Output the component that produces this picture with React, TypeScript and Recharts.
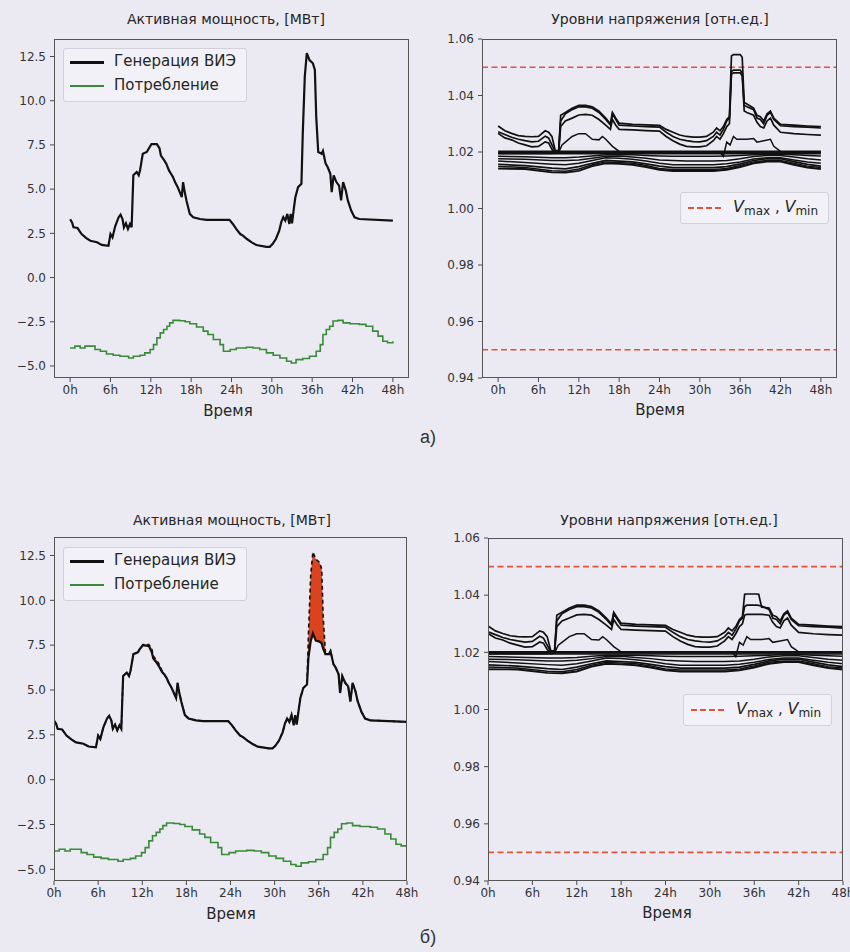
import React from 'react';
import { ComposedChart, Line, Area, XAxis, YAxis, ReferenceLine } from 'recharts';

const FONT = '"DejaVu Sans", sans-serif';
const BG = '#EBEAF3';

const hourTicks = [0, 6, 12, 18, 24, 30, 36, 42, 48];
const powerTicks = [-5, -2.5, 0, 2.5, 5, 7.5, 10, 12.5];
const voltTicks = [0.94, 0.96, 0.98, 1.0, 1.02, 1.04, 1.06];
const voltLimits = [1.05, 0.95];

const titlePower = 'Активная мощность, [МВт]';
const titleVolt = 'Уровни напряжения [отн.ед.]';
const xLabel = 'Время';
const genName = 'Генерация ВИЭ';
const consName = 'Потребление';

// Generation of RES (MW)
const genHours = [
  0, 0.3, 0.5, 1.1, 1.7, 2.4, 3, 4, 4.7, 5.7,
  6.0, 6.3, 6.7, 7.2, 7.5, 7.8, 8, 8.3, 8.6, 8.9,
  9.15, 9.4, 9.9, 10.2, 10.4, 10.8, 11.4, 11.7, 12.1, 12.9,
  13.3, 13.5, 14, 14.3, 14.7, 15, 15.3, 15.6, 16, 16.3,
  16.6, 16.8, 17, 17.3, 17.8, 18.3, 19.3, 20.3, 23.7, 24.2,
  24.7, 25.3, 25.7, 26.3, 27, 27.7, 29.2, 29.7, 30.1, 30.6,
  31.1, 31.4, 31.7, 32, 32.3, 32.6, 32.8, 33, 33.3, 33.5,
  33.9, 34.4, 34.6, 34.9, 35.2, 35.6, 36.1, 36.4, 36.6, 36.9,
  37.4, 37.6, 38, 38.3, 38.7, 38.9, 39.2, 39.6, 40, 40.3,
  40.6, 41, 41.3, 41.8, 42.3, 43, 48,
];
const genValues = [
  3.3, 3.1, 2.84, 2.8, 2.46, 2.23, 2.08, 2.0, 1.85, 1.8,
  2.46, 2.27, 2.9, 3.4, 3.56, 3.3, 2.84, 3.07, 2.75, 3.03,
  2.84, 5.78, 5.97, 5.78, 6.06, 7.0, 7.1, 7.3, 7.54, 7.54,
  7.3, 6.9, 6.63, 6.44, 6.06, 5.87, 5.68, 5.4, 5.11, 4.83,
  4.55, 5.4, 4.92, 4.36, 3.6, 3.41, 3.31, 3.26, 3.26, 3.03,
  2.75, 2.46, 2.37, 2.18, 1.99, 1.84, 1.74, 1.74, 1.89, 2.18,
  2.65, 3.13, 3.41, 3.22, 3.6, 3.03, 3.6, 3.07, 3.98, 4.55,
  5.11, 5.3, 8.14, 11.36, 12.69, 12.3, 12.12, 11.74, 9.1, 7.1,
  7.0, 7.16, 6.44, 6.25, 5.87, 4.83, 5.78, 5.4, 5.2, 4.36,
  5.4, 4.92, 4.36, 3.79, 3.41, 3.31, 3.22,
];
const genCurtailedValues = [
  3.3, 3.1, 2.84, 2.8, 2.46, 2.23, 2.08, 2.0, 1.85, 1.8,
  2.46, 2.27, 2.9, 3.4, 3.56, 3.3, 2.84, 3.07, 2.75, 3.03,
  2.84, 5.78, 5.97, 5.78, 6.06, 7.0, 7.1, 7.3, 7.5, 7.45,
  7.1, 6.75, 6.5, 6.3, 6.0, 5.87, 5.68, 5.4, 5.11, 4.83,
  4.55, 5.4, 4.92, 4.36, 3.6, 3.41, 3.31, 3.26, 3.26, 3.03,
  2.75, 2.46, 2.37, 2.18, 1.99, 1.84, 1.74, 1.74, 1.89, 2.18,
  2.65, 3.13, 3.41, 3.22, 3.6, 3.03, 3.6, 3.07, 3.98, 4.55,
  5.11, 5.3, 6.8, 7.7, 8.15, 7.75, 7.7, 7.6, 7.3, 7.0,
  7.0, 7.16, 6.44, 6.25, 5.87, 4.83, 5.78, 5.4, 5.2, 4.36,
  5.4, 4.92, 4.36, 3.79, 3.41, 3.31, 3.22,
];

// Consumption (MW, negative)
const consHours = [
  0, 0.7, 1.5, 2.2, 3.7, 4.5, 5.4, 6.4, 7.4, 8.7,
  9.4, 10.4, 11.1, 11.9, 12.4, 12.9, 13.4, 13.9, 14.4, 14.8,
  15.3, 16.3, 17.1, 17.8, 18.8, 19.8, 20.5, 21.3, 22.3, 22.8,
  23.8, 24.7, 26.2, 27.2, 28.2, 29.2, 30.2, 31.2, 32.2, 32.9,
  33.6, 34.6, 35.6, 36.6, 37.2, 37.6, 38.1, 38.6, 39.1, 39.8,
  40.6, 41.6, 43, 44, 45, 45.8, 46.5, 47.2, 48,
];
const consValues = [
  -3.98, -3.88, -3.98, -3.88, -4.07, -4.17, -4.32, -4.39, -4.45, -4.55,
  -4.45, -4.39, -4.26, -4.07, -3.79, -3.41, -3.13, -2.94, -2.75, -2.56,
  -2.42, -2.44, -2.5, -2.61, -2.8, -3.03, -3.22, -3.5, -3.79, -4.17,
  -4.07, -3.98, -3.94, -3.98, -4.07, -4.26, -4.39, -4.55, -4.73, -4.83,
  -4.64, -4.58, -4.45, -4.17, -3.79, -3.22, -2.94, -2.75, -2.46, -2.42,
  -2.56, -2.61, -2.65, -2.75, -3.03, -3.31, -3.6, -3.69, -3.6,
];

// Voltage levels (p.u.) - upper nodes
const vUpHours = [
  0, 1, 2, 3, 4, 5, 6, 7, 7.5, 8,
  8.5, 9, 9.3, 10, 11, 12, 13, 14, 15, 16,
  16.7, 17, 17.5, 18, 20, 22, 24, 25, 26, 27,
  28, 29, 30, 31, 32, 32.5, 33, 33.5, 34, 34.4,
  34.7, 35, 36, 36.3, 36.6, 37, 38, 38.5, 39, 39.5,
  40, 40.5, 41, 42, 44, 46, 48,
];
const vUp1A = [
  1.0292, 1.0275, 1.0266, 1.0258, 1.0255, 1.0254, 1.0255, 1.0275, 1.027, 1.0255,
  1.0205, 1.0205, 1.033, 1.034, 1.0355, 1.0365, 1.0365, 1.036, 1.0345, 1.032,
  1.03, 1.034, 1.032, 1.0302, 1.0298, 1.0296, 1.0294, 1.028, 1.027, 1.026,
  1.0255, 1.0253, 1.0253, 1.0255, 1.027, 1.0285, 1.0275, 1.029, 1.0315, 1.0325,
  1.054, 1.0545, 1.0545, 1.0535, 1.0375, 1.037, 1.0355, 1.033, 1.0325, 1.031,
  1.0335, 1.0345, 1.032, 1.0298, 1.0295, 1.0292, 1.029,
];
const vUp2A = [
  1.0272, 1.0262, 1.0252, 1.0245, 1.024, 1.0236, 1.0238, 1.0256, 1.025, 1.0225,
  1.02, 1.0205, 1.031, 1.0335, 1.035, 1.036, 1.036, 1.0355, 1.034, 1.0315,
  1.0295, 1.0335, 1.0315, 1.0295, 1.0292, 1.029, 1.0288, 1.027, 1.0255, 1.0245,
  1.024, 1.0237, 1.0236, 1.024, 1.0255, 1.027, 1.026, 1.028, 1.031, 1.032,
  1.0485, 1.049, 1.049, 1.048, 1.0365, 1.036, 1.035, 1.032, 1.0315, 1.03,
  1.033, 1.034, 1.0315, 1.0293, 1.029, 1.0288, 1.0285,
];
const vUp3A = [
  1.0266, 1.025, 1.0243, 1.0232, 1.0225, 1.0218, 1.022, 1.0236, 1.0232, 1.021,
  1.0195, 1.0198, 1.029, 1.031, 1.032, 1.0331, 1.0333, 1.033, 1.0315, 1.0295,
  1.028, 1.0315, 1.0295, 1.028, 1.0278, 1.0276, 1.0274, 1.0255, 1.024, 1.0228,
  1.022, 1.0218, 1.0218, 1.0222, 1.024, 1.0255, 1.0245, 1.0265, 1.029, 1.03,
  1.0475, 1.048, 1.048, 1.047, 1.0345, 1.034, 1.033, 1.0305, 1.029, 1.0285,
  1.031, 1.032, 1.0295, 1.027, 1.0265, 1.0262, 1.026,
];
const vUp1B = [
  1.0292, 1.0275, 1.0266, 1.0258, 1.0255, 1.0254, 1.0255, 1.0275, 1.027, 1.0255,
  1.0205, 1.0205, 1.033, 1.034, 1.0355, 1.0365, 1.0365, 1.036, 1.0345, 1.032,
  1.03, 1.034, 1.032, 1.0302, 1.0298, 1.0296, 1.0294, 1.028, 1.027, 1.026,
  1.0255, 1.0253, 1.0253, 1.0255, 1.027, 1.0285, 1.0275, 1.029, 1.0315, 1.0325,
  1.0403, 1.0404, 1.0404, 1.0404, 1.0403, 1.0358, 1.0355, 1.033, 1.0325, 1.031,
  1.0335, 1.0345, 1.032, 1.0298, 1.0295, 1.0292, 1.029,
];
const vUp2B = [
  1.0272, 1.0262, 1.0252, 1.0245, 1.024, 1.0236, 1.0238, 1.0256, 1.025, 1.0225,
  1.02, 1.0205, 1.031, 1.0335, 1.035, 1.036, 1.036, 1.0355, 1.034, 1.0315,
  1.0295, 1.0335, 1.0315, 1.0295, 1.0292, 1.029, 1.0288, 1.027, 1.0255, 1.0245,
  1.024, 1.0237, 1.0236, 1.024, 1.0255, 1.027, 1.026, 1.028, 1.031, 1.032,
  1.036, 1.0365, 1.0365, 1.0365, 1.0364, 1.0362, 1.035, 1.032, 1.0315, 1.03,
  1.033, 1.034, 1.0315, 1.0293, 1.029, 1.0288, 1.0285,
];
const vUp3B = [
  1.0266, 1.025, 1.0243, 1.0232, 1.0225, 1.0218, 1.022, 1.0236, 1.0232, 1.021,
  1.0195, 1.0198, 1.029, 1.031, 1.032, 1.0331, 1.0333, 1.033, 1.0315, 1.0295,
  1.028, 1.0315, 1.0295, 1.028, 1.0278, 1.0276, 1.0274, 1.0255, 1.024, 1.0228,
  1.022, 1.0218, 1.0218, 1.0222, 1.024, 1.0255, 1.0245, 1.0265, 1.029, 1.03,
  1.033, 1.0333, 1.0333, 1.0333, 1.0333, 1.0333, 1.033, 1.0305, 1.029, 1.0285,
  1.031, 1.032, 1.0295, 1.027, 1.0265, 1.0262, 1.026,
];

// Middle node
const vMidHours = [
  0, 8, 9, 9.5, 10, 11, 12, 13, 13.5, 14,
  15, 15.5, 16, 17, 18, 19, 33, 33.5, 34, 34.5,
  35, 35.5, 37, 38, 38.5, 39.5, 40.5, 41, 42, 43, 48,
];
const vMidValues = [
  1.0195, 1.0195, 1.0198, 1.0225, 1.0235, 1.0255, 1.0265, 1.0265, 1.0255, 1.0245,
  1.0243, 1.0255, 1.0245, 1.022, 1.0202, 1.02, 1.02, 1.0185, 1.0235, 1.0225,
  1.0255, 1.0245, 1.0245, 1.0248, 1.0235, 1.024, 1.0245, 1.022, 1.0202, 1.02, 1.02,
];

// Lower nodes
const vLowHours = [0, 4, 8, 10, 12, 14, 16, 18, 20, 22, 24, 26, 28, 30, 32, 34, 36, 38, 40, 42, 44, 46, 48];
const vLow1 = [1.0185, 1.0183, 1.018, 1.018, 1.0182, 1.0186, 1.019, 1.019, 1.019, 1.0188, 1.0186, 1.0185, 1.0185, 1.0185, 1.0185, 1.0186, 1.0188, 1.019, 1.0192, 1.0192, 1.019, 1.0188, 1.0186];
const vLow2 = [1.0176, 1.0174, 1.017, 1.017, 1.0172, 1.0178, 1.0185, 1.0186, 1.0182, 1.0178, 1.0172, 1.017, 1.0168, 1.0168, 1.0168, 1.017, 1.0176, 1.0184, 1.0188, 1.0188, 1.0182, 1.0176, 1.0172];
const vLow3 = [1.0168, 1.0163, 1.0157, 1.0155, 1.016, 1.017, 1.018, 1.0178, 1.0174, 1.0168, 1.016, 1.0155, 1.0155, 1.0155, 1.0155, 1.0158, 1.0165, 1.0175, 1.018, 1.018, 1.0172, 1.0165, 1.016];
const vLow4 = [1.0156, 1.0152, 1.0143, 1.014, 1.0148, 1.016, 1.017, 1.0168, 1.0165, 1.0158, 1.015, 1.0145, 1.0145, 1.0145, 1.0145, 1.0148, 1.0158, 1.017, 1.0176, 1.0176, 1.0166, 1.0156, 1.015];
const vLow5 = [1.0149, 1.0145, 1.0134, 1.0132, 1.014, 1.0155, 1.0165, 1.0163, 1.016, 1.0152, 1.0142, 1.0138, 1.0138, 1.0138, 1.0138, 1.0142, 1.0152, 1.0165, 1.017, 1.017, 1.016, 1.015, 1.0145];
const vLow6 = [1.0141, 1.014, 1.0128, 1.0127, 1.0133, 1.015, 1.016, 1.0158, 1.0155, 1.0147, 1.0137, 1.0133, 1.0133, 1.0133, 1.0133, 1.0137, 1.0147, 1.016, 1.0166, 1.0166, 1.0155, 1.0145, 1.014];

// Slack-bus nodes (flat)
const vFlatHours = [0, 12, 24, 36, 48];
const vFlat1 = [1.02, 1.02, 1.02, 1.02, 1.02];
const vFlat2 = [1.0194, 1.0194, 1.0194, 1.0194, 1.0194];

const pts = (hs: number[], vs: number[]) => hs.map((t, i) => ({ t, v: vs[i] }));

const consData = pts(consHours, consValues);
const genDataA = genHours.map((t, i) => ({ t, gen: genValues[i] }));
const genDataB = genHours.map((t, i) => ({
  t,
  gen: genValues[i],
  cur: genCurtailedValues[i],
  range: [genCurtailedValues[i], genValues[i]],
}));

const commonVolt = [
  { hs: vFlatHours, vs: vFlat1, w: 2.8 },
  { hs: vFlatHours, vs: vFlat2, w: 1.5 },
  { hs: vMidHours, vs: vMidValues, w: 1.5 },
  { hs: vLowHours, vs: vLow1, w: 1.5 },
  { hs: vLowHours, vs: vLow2, w: 1.5 },
  { hs: vLowHours, vs: vLow3, w: 1.5 },
  { hs: vLowHours, vs: vLow4, w: 1.7 },
  { hs: vLowHours, vs: vLow5, w: 1.5 },
  { hs: vLowHours, vs: vLow6, w: 1.9 },
];
const voltSeriesA = [
  ...commonVolt,
  { hs: vUpHours, vs: vUp1A, w: 1.7 },
  { hs: vUpHours, vs: vUp2A, w: 1.7 },
  { hs: vUpHours, vs: vUp3A, w: 1.7 },
];
const voltSeriesB = [
  ...commonVolt,
  { hs: vUpHours, vs: vUp1B, w: 1.7 },
  { hs: vUpHours, vs: vUp2B, w: 1.7 },
  { hs: vUpHours, vs: vUp3B, w: 1.7 },
];

type Frame = { x: number; y: number; w: number; h: number };
const YW = 60;
const MT = 10;
const XH = 30;
const MR = 24;

const tickStyle = { fill: '#333', fontSize: 12, fontFamily: FONT };
const fmtPower = (v: number) => (v < 0 ? '\u2212' + Math.abs(v).toFixed(1) : v.toFixed(1));
const fmtVolt = (v: number) => v.toFixed(2);

function Plot(props: {
  frame: Frame;
  xDomain: [number, number];
  yDomain: [number, number];
  yTicks: number[];
  yFmt: (v: number) => string;
  data?: any[];
  children: React.ReactNode;
}) {
  const { frame, xDomain, yDomain, yTicks, yFmt, data, children } = props;
  return (
    <>
      <div style={{ position: 'absolute', left: frame.x - YW, top: frame.y - MT }}>
        <ComposedChart
          width={frame.w + YW + MR}
          height={frame.h + MT + XH}
          margin={{ top: MT, right: MR, bottom: 0, left: 0 }}
          data={data}
        >
          <XAxis
            type="number"
            dataKey="t"
            domain={xDomain}
            ticks={hourTicks}
            interval={0}
            allowDataOverflow
            tickFormatter={(v: number) => `${v}h`}
            axisLine={false}
            tickLine={{ stroke: '#4a4a4a' }}
            tickSize={4}
            tickMargin={3}
            height={XH}
            tick={tickStyle}
          />
          <YAxis
            type="number"
            domain={yDomain}
            ticks={yTicks}
            interval={0}
            allowDataOverflow
            tickFormatter={yFmt}
            axisLine={false}
            tickLine={{ stroke: '#4a4a4a' }}
            tickSize={4}
            tickMargin={4}
            width={YW}
            tick={tickStyle}
          />
          {children}
        </ComposedChart>
      </div>
      <div
        style={{
          position: 'absolute',
          left: frame.x,
          top: frame.y,
          width: frame.w,
          height: frame.h,
          border: '1.2px solid #555',
          boxSizing: 'border-box',
          pointerEvents: 'none',
        }}
      />
    </>
  );
}

function Txt(props: { cx: number; cy: number; size: number; children: React.ReactNode; family?: string; color?: string }) {
  return (
    <div
      style={{
        position: 'absolute',
        left: props.cx,
        top: props.cy,
        transform: 'translate(-50%, -50%)',
        whiteSpace: 'nowrap',
        fontSize: props.size,
        fontFamily: props.family || FONT,
        color: props.color || '#262626',
        lineHeight: 1,
      }}
    >
      {props.children}
    </div>
  );
}

function PowerLegend(props: { x: number; y: number }) {
  const row = (top: number, color: string, w: number, label: string) => (
    <div style={{ position: 'absolute', left: 0, top, width: '100%', height: 20 }}>
      <div style={{ position: 'absolute', left: 6, top: 10 - w / 2, width: 34, height: w, background: color }} />
      <div style={{ position: 'absolute', left: 50, top: 2, fontSize: 15, fontFamily: FONT, color: '#262626', lineHeight: 1 }}>
        {label}
      </div>
    </div>
  );
  return (
    <div
      style={{
        position: 'absolute',
        left: props.x,
        top: props.y,
        width: 184,
        height: 54,
        border: '1px solid #d2d1da',
        borderRadius: 3,
        background: 'rgba(246,245,250,0.6)',
        boxSizing: 'border-box',
      }}
    >
      {row(3, '#111', 3, genName)}
      {row(27, '#3a8a3a', 1.6, consName)}
    </div>
  );
}

function VoltLegend(props: { x: number; y: number }) {
  return (
    <div
      style={{
        position: 'absolute',
        left: props.x,
        top: props.y,
        width: 149,
        height: 32,
        border: '1px solid #d2d1da',
        borderRadius: 3,
        background: 'rgba(246,245,250,0.6)',
        boxSizing: 'border-box',
      }}
    >
      <svg style={{ position: 'absolute', left: 6, top: 9 }} width={36} height={12}>
        <line x1={1} y1={6} x2={35} y2={6} stroke="#e0553a" strokeWidth={1.8} strokeDasharray="6 3" />
      </svg>
      <div style={{ position: 'absolute', left: 52, top: 6, fontFamily: FONT, color: '#262626', lineHeight: 1, whiteSpace: 'nowrap' }}>
        <span style={{ fontStyle: 'italic', fontSize: 16 }}>V</span>
        <span style={{ fontSize: 12, position: 'relative', top: 3 }}>max</span>
        <span style={{ fontSize: 15 }}> , </span>
        <span style={{ fontStyle: 'italic', fontSize: 16 }}>V</span>
        <span style={{ fontSize: 12, position: 'relative', top: 3 }}>min</span>
      </div>
    </div>
  );
}

function VoltLines(series: { hs: number[]; vs: number[]; w: number }[]) {
  return series.map((s, i) => (
    <Line
      key={'v' + i}
      data={pts(s.hs, s.vs)}
      dataKey="v"
      type="linear"
      stroke="#111"
      strokeWidth={s.w}
      dot={false}
      activeDot={false}
      isAnimationActive={false}
    />
  ));
}

function LimitLines() {
  return voltLimits.map((y) => (
    <ReferenceLine key={'l' + y} y={y} stroke="#e0553a" strokeWidth={1.7} strokeDasharray="6 3.5" />
  ));
}

const frameA1: Frame = { x: 54, y: 39, w: 355, h: 339 };
const frameA2: Frame = { x: 482, y: 39, w: 355, h: 339 };
const frameB1: Frame = { x: 54, y: 537, w: 353, h: 344 };
const frameB2: Frame = { x: 488, y: 538, w: 355, h: 343 };

export default function App() {
  return (
    <div
      style={{
        position: 'absolute',
        left: 0,
        top: 0,
        width: 850,
        height: 952,
        overflow: 'hidden',
        background: BG,
      }}
    >
      {/* а) power */}
      <Plot frame={frameA1} xDomain={[-2.4, 50.4]} yDomain={[-5.68, 13.49]} yTicks={powerTicks} yFmt={fmtPower} data={genDataA}>
        <Line dataKey="gen" type="linear" stroke="#111" strokeWidth={2.2} dot={false} activeDot={false} isAnimationActive={false} />
        <Line data={consData} dataKey="v" type="stepAfter" stroke="#3a8a3a" strokeWidth={1.6} dot={false} activeDot={false} isAnimationActive={false} />
      </Plot>
      <Txt cx={226} cy={19} size={14}>{titlePower}</Txt>
      <Txt cx={228} cy={411} size={15}>{xLabel}</Txt>
      <PowerLegend x={63} y={48} />

      {/* а) voltage */}
      <Plot frame={frameA2} xDomain={[-2.4, 50.4]} yDomain={[0.94, 1.06]} yTicks={voltTicks} yFmt={fmtVolt}>
        {LimitLines()}
        {VoltLines(voltSeriesA)}
      </Plot>
      <Txt cx={660} cy={19} size={14}>{titleVolt}</Txt>
      <Txt cx={660} cy={410} size={15}>{xLabel}</Txt>
      <VoltLegend x={680} y={192} />

      <Txt cx={428} cy={437} size={18} family='"Liberation Sans Narrow", "Liberation Sans", sans-serif' color="#333">а)</Txt>

      {/* б) power */}
      <Plot frame={frameB1} xDomain={[0, 48]} yDomain={[-5.65, 13.53]} yTicks={powerTicks} yFmt={fmtPower} data={genDataB}>
        <Area dataKey="range" type="linear" stroke="none" fill="#d9431e" fillOpacity={1} activeDot={false} isAnimationActive={false} />
        <Line dataKey="gen" type="linear" stroke="#111" strokeWidth={1.6} strokeDasharray="4 3" dot={false} activeDot={false} isAnimationActive={false} />
        <Line dataKey="cur" type="linear" stroke="#111" strokeWidth={2.2} dot={false} activeDot={false} isAnimationActive={false} />
        <Line data={consData} dataKey="v" type="stepAfter" stroke="#3a8a3a" strokeWidth={1.6} dot={false} activeDot={false} isAnimationActive={false} />
      </Plot>
      <Txt cx={232} cy={520} size={14}>{titlePower}</Txt>
      <Txt cx={231} cy={914} size={15}>{xLabel}</Txt>
      <PowerLegend x={63} y={547} />

      {/* б) voltage */}
      <Plot frame={frameB2} xDomain={[0, 48]} yDomain={[0.94, 1.06]} yTicks={voltTicks} yFmt={fmtVolt}>
        {LimitLines()}
        {VoltLines(voltSeriesB)}
      </Plot>
      <Txt cx={669} cy={520} size={14}>{titleVolt}</Txt>
      <Txt cx={667} cy={913} size={15}>{xLabel}</Txt>
      <VoltLegend x={683} y={694} />

      <Txt cx={428} cy={937} size={18} family='"Liberation Sans Narrow", "Liberation Sans", sans-serif' color="#333">б)</Txt>
    </div>
  );
}
